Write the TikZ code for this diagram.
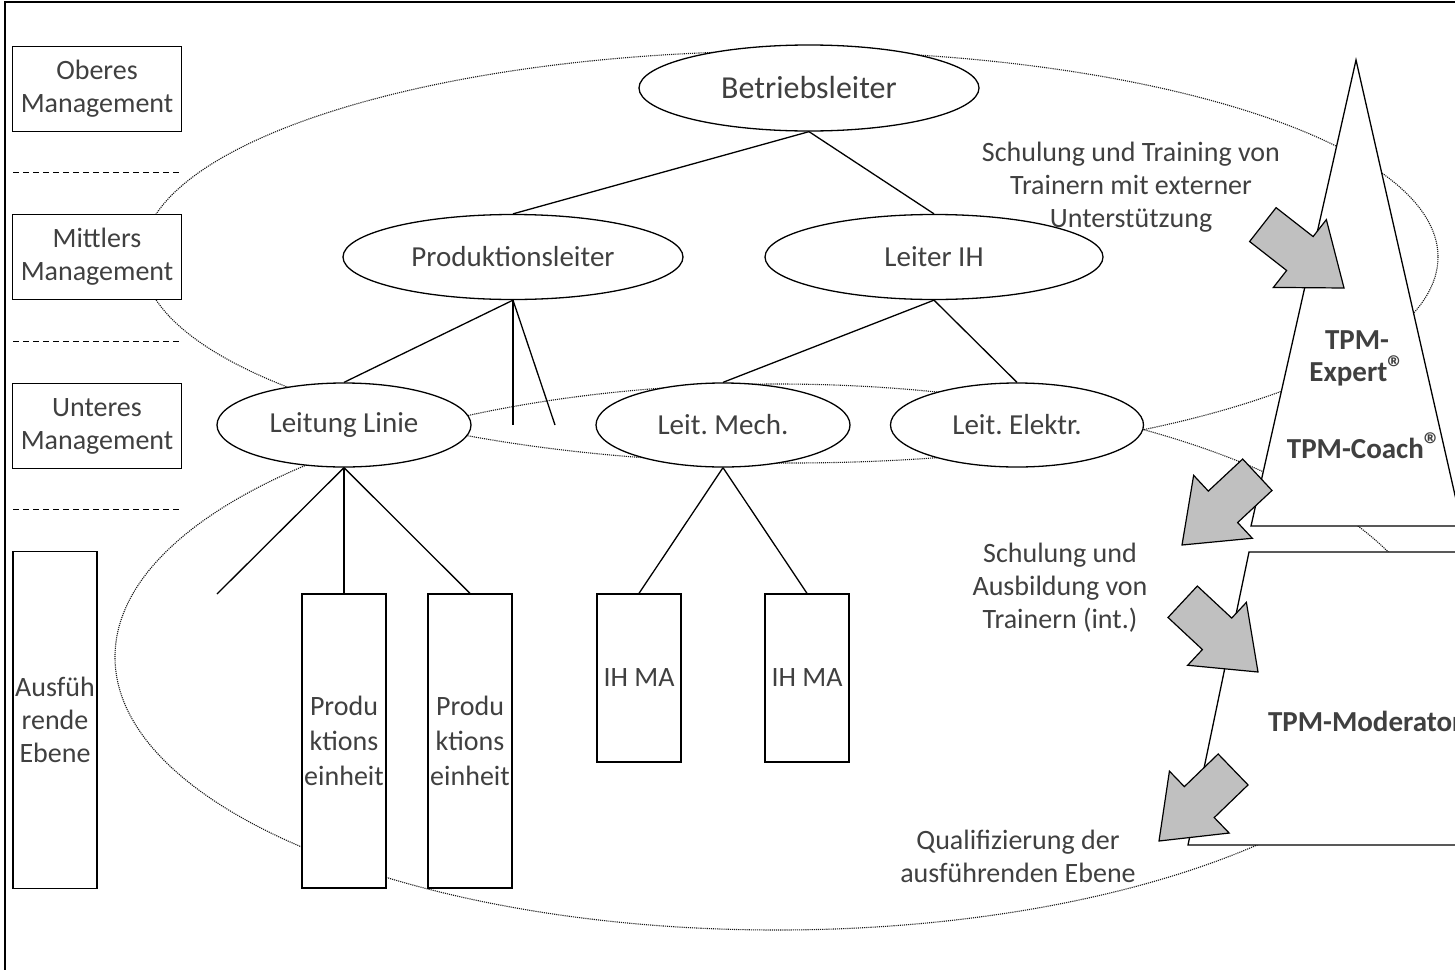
\documentclass[tikz,border=0pt]{standalone}
\usepackage{fontspec}
\setmainfont{Carlito}
\usetikzlibrary{shapes.geometric}
\definecolor{txtgray}{HTML}{404040}
\definecolor{arrowgray}{HTML}{C0C0C0}
\frenchspacing

\tikzset{
  lvl/.style={draw, fill=white, inner sep=0pt, align=center, text=txtgray,
              font=\fontsize{28}{33}\selectfont},
  role/.style={draw, ellipse, fill=white, inner sep=0pt, minimum width=254,
               minimum height=84, text=txtgray, font=\fontsize{29}{34}\selectfont},
  unit/.style={draw, fill=white, inner sep=0pt, minimum width=84, align=center,
               text=txtgray, font=\fontsize{28}{35}\selectfont},
  note/.style={align=center, text=txtgray, font=\fontsize{28}{33}\selectfont},
  tpm/.style={align=center, text=txtgray, font=\bfseries\fontsize{29}{32}\selectfont},
  zone/.style={densely dotted, line width=1.1pt, black!90},
  sep/.style={dashed, dash pattern=on 6pt off 4pt, line width=1pt},
  blockarrow/.style={draw, fill=arrowgray, line width=1.2pt, line join=miter}
}

% gray block arrow: tip x, tip y, direction
\newcommand{\flowarrow}[3]{%
  \draw[blockarrow, shift={(#1,#2)}, rotate=#3]
    (0,0) -- (-56,43) -- (-56,21.5) -- (-103,21.5) -- (-103,-21.5)
    -- (-56,-21.5) -- (-56,-43) -- cycle;}
\newcommand{\regmark}{\raisebox{0.15ex}{\fontsize{34}{34}\selectfont ®}}

\begin{document}
\begin{tikzpicture}[x=1pt, y=-1pt, line width=1.3pt]
  \clip (0,0) rectangle (1455,969);
  \fill[white] (0,0) rectangle (1455,969);
  \draw[line width=1.5pt] (5,975) -- (5,2) -- (1460,2);

  % Dotted zones
  \draw[zone] (790,257) ellipse [x radius=648, y radius=206];
  \draw[zone] (777,657) ellipse [x radius=662, y radius=273];

  % Level labels on the left
  \foreach \n/\y/\t in {ober/89/{Oberes\\Management},
                        mittel/257/{Mittlers\\Management},
                        unter/426/{Unteres\\Management}} {
    \node[lvl, minimum width=169, minimum height=85] (\n) at (97,\y) {\t};
  }
  \node[lvl, minimum width=84, minimum height=337] (ausf) at (55,720)
    {Ausfüh\\rende\\Ebene};
  \foreach \y in {172,341,509} {
    \draw[sep] (13,\y) -- (182,\y);
  }

  % Hierarchy
  \node[role, minimum width=340, minimum height=86,
        font=\fontsize{32}{36}\selectfont] (betrieb) at (809,88) {Betriebsleiter};
  \node[role, minimum width=340, minimum height=85] (prodl) at (513,257) {Produktionsleiter};
  \node[role, minimum width=338, minimum height=85] (leiterih) at (934,257) {Leiter IH};
  \node[role] (linie) at (344,425) {Leitung Linie};
  \node[role] (mech) at (723,425) {Leit. Mech.};
  \node[role, minimum width=253] (elektr) at (1017,425) {Leit. Elektr.};

  \node[unit, minimum height=294] (pe1) at (344,741) {Produ\\ktions\\einheit};
  \node[unit, minimum height=294] (pe2) at (470,741) {Produ\\ktions\\einheit};
  \node[unit, minimum height=168] (ma1) at (639,678) {IH MA};
  \node[unit, minimum height=168] (ma2) at (807,678) {IH MA};

  \coordinate (stub1) at (513,425);
  \coordinate (stub2) at (555,425);
  \coordinate (stub3) at (217,594);

  \draw (betrieb.south) -- (prodl.north);
  \draw (betrieb.south) -- (leiterih.north);
  \draw (prodl.south) -- (linie.north);
  \draw (prodl.south) -- (stub1);
  \draw (prodl.south) -- (stub2);
  \draw (leiterih.south) -- (mech.north);
  \draw (leiterih.south) -- (elektr.north);
  \draw (linie.south) -- (stub3);
  \draw (linie.south) -- (pe1.north);
  \draw (linie.south) -- (pe2.north);
  \draw (mech.south) -- (ma1.north);
  \draw (mech.south) -- (ma2.north);

  % Training pyramid
  \draw[fill=white] (1356,60) -- (1251,526) -- (1462,526) -- cycle;
  \draw[fill=white] (1470,552) -- (1249,552) -- (1188,845) -- (1470,845);
  \node[tpm] (expert) at (1357,358) {TPM-\\Expert\regmark};
  \node[tpm] (coach) at (1364,446) {TPM-Coach\regmark};
  \node[tpm, anchor=west] (moder) at (1264,721) {TPM-Moderator};

  \node[note] (extern) at (1131,187)
    {Schulung und Training von\\Trainern mit externer\\Unterstützung};
  \node[note] (intern) at (1060,588) {Schulung und\\Ausbildung von\\Trainern (int.)};
  \node[note] (quali) at (1018,856) {Qualifizierung der\\ausführenden Ebene};

  \flowarrow{1344}{288}{-38}
  \flowarrow{1182}{545}{-137}
  \flowarrow{1258}{672}{-43}
  \flowarrow{1159}{841}{-136}
\end{tikzpicture}
\end{document}
